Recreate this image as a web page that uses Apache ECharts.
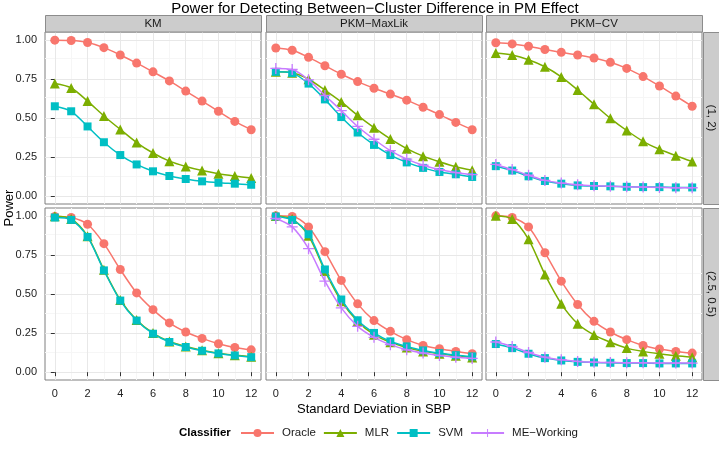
<!DOCTYPE html>
<html>
<head>
<meta charset="utf-8">
<script src="https://cdn.jsdelivr.net/npm/echarts@6/dist/echarts.min.js"></script>
<style>html,body{margin:0;padding:0;background:#fff}#c{width:719px;height:449px}</style>
</head>
<body>
<div id="c"></div>
<script>
// ---- data ----
const sdValues = [0,1,2,3,4,5,6,7,8,9,10,11,12];
const xTicks = [0,2,4,6,8,10,12];
const xMinor = [1,3,5,7,9,11];
const yTicks = [0,0.25,0.5,0.75,1];
const yMinor = [0.125,0.375,0.625,0.875];
const colFacets = ['KM','PKM\u2212MaxLik','PKM\u2212CV'];
const rowFacets = ['(1, 2)','(2.5, 0.5)'];
const classifiers = ['Oracle','MLR','SVM','ME\u2212Working'];

// row (1, 2)
const oracle_KM_1 = [0.998,0.996,0.983,0.950,0.903,0.851,0.795,0.737,0.672,0.608,0.543,0.478,0.425];
const mlr_KM_1    = [0.720,0.692,0.608,0.513,0.427,0.343,0.276,0.224,0.190,0.164,0.144,0.129,0.116];
const svm_KM_1    = [0.575,0.543,0.446,0.345,0.263,0.203,0.159,0.129,0.110,0.095,0.086,0.080,0.073];
const oracle_ML_1 = [0.948,0.933,0.888,0.834,0.780,0.733,0.690,0.653,0.614,0.569,0.522,0.472,0.425];
const mlr_ML_1    = [0.795,0.789,0.748,0.679,0.603,0.517,0.438,0.366,0.304,0.256,0.220,0.188,0.166];
const svm_ML_1    = [0.795,0.787,0.720,0.619,0.506,0.407,0.328,0.263,0.216,0.181,0.155,0.140,0.123];
const me_ML_1     = [0.817,0.810,0.744,0.644,0.547,0.446,0.364,0.291,0.237,0.198,0.170,0.151,0.138];
const oracle_CV_1 = [0.981,0.974,0.959,0.938,0.920,0.903,0.884,0.856,0.817,0.765,0.705,0.640,0.575];
const mlr_CV_1    = [0.916,0.903,0.873,0.828,0.763,0.679,0.588,0.498,0.420,0.351,0.300,0.259,0.222];
const svm_CV_1    = [0.192,0.164,0.127,0.097,0.080,0.069,0.065,0.063,0.060,0.058,0.058,0.056,0.056];
const me_CV_1     = [0.203,0.170,0.134,0.101,0.084,0.073,0.067,0.063,0.060,0.058,0.056,0.054,0.054];
// row (2.5, 0.5)
const oracle_KM_2 = [0.996,0.989,0.946,0.822,0.657,0.507,0.400,0.315,0.257,0.216,0.182,0.158,0.143];
const mlr_KM_2    = [0.997,0.980,0.870,0.655,0.462,0.334,0.250,0.196,0.164,0.140,0.121,0.109,0.099];
const svm_KM_2    = [0.989,0.974,0.865,0.651,0.458,0.330,0.246,0.193,0.161,0.137,0.120,0.107,0.096];
const oracle_ML_2 = [1.000,0.996,0.929,0.771,0.587,0.437,0.330,0.261,0.208,0.171,0.150,0.133,0.118];
const mlr_ML_2    = [0.999,0.979,0.872,0.647,0.454,0.325,0.240,0.191,0.158,0.133,0.118,0.105,0.094];
const svm_ML_2    = [0.996,0.974,0.882,0.657,0.465,0.332,0.251,0.197,0.165,0.139,0.122,0.109,0.101];
const me_ML_2     = [0.983,0.929,0.790,0.582,0.411,0.293,0.223,0.176,0.143,0.122,0.107,0.096,0.088];
const oracle_CV_2 = [1.000,0.989,0.929,0.764,0.582,0.433,0.325,0.257,0.208,0.171,0.148,0.133,0.122];
const mlr_CV_2    = [1.000,0.979,0.850,0.625,0.437,0.310,0.238,0.191,0.154,0.133,0.118,0.105,0.096];
const svm_CV_2    = [0.180,0.154,0.118,0.090,0.075,0.066,0.062,0.060,0.058,0.058,0.056,0.056,0.056];
const me_CV_2     = [0.193,0.165,0.126,0.096,0.079,0.069,0.064,0.062,0.060,0.060,0.058,0.058,0.058];

// panels: [row][col] -> [oracle, mlr, svm, me]
const panelData = [
  [[oracle_KM_1, mlr_KM_1, svm_KM_1, null],
   [oracle_ML_1, mlr_ML_1, svm_ML_1, me_ML_1],
   [oracle_CV_1, mlr_CV_1, svm_CV_1, me_CV_1]],
  [[oracle_KM_2, mlr_KM_2, svm_KM_2, null],
   [oracle_ML_2, mlr_ML_2, svm_ML_2, me_ML_2],
   [oracle_CV_2, mlr_CV_2, svm_CV_2, me_CV_2]]
];

// ---- style / layout ----
const FONT = '"Liberation Sans", Arial, Helvetica, sans-serif';
const colors = ['#F8766D','#7CAE00','#00BFC4','#C77CFF'];
const PLUS = 'path://M4.4,0H5.6V10H4.4ZM0,4.4H10V5.6H0Z';
const symbols = ['circle','triangle','rect',PLUS];
const symSizes = [9,10,8,11];
const L = [45, 266, 486];
const T = [32, 208];
const W = 216, H = 172;
const XMIN = -0.6, XMAX = 12.6, YMIN = -0.05, YMAX = 1.05;
const MAJOR = '#e8e8e8', MINOR = '#f6f6f6';

const grids = [], xAxes = [], yAxes = [], series = [];
for (let r = 0; r < 2; r++) {
  for (let c = 0; c < 3; c++) {
    const gi = grids.length;
    grids.push({left: L[c], top: T[r], width: W, height: H, show: true,
      borderColor: '#7f7f7f', borderWidth: 1, backgroundColor: '#fff', containLabel: false});
    const bottomRow = r === 1, leftCol = c === 0;
    xAxes.push({type: 'value', gridIndex: gi, min: XMIN, max: XMAX, position: 'bottom',
      axisLine: {show: false}, splitLine: {show: false},
      axisTick: {show: bottomRow, customValues: xTicks, length: 4, lineStyle: {color: '#333'}},
      axisLabel: {show: bottomRow, customValues: xTicks, margin: 8, fontSize: 11, color: '#222', fontFamily: FONT},
      name: (bottomRow && c === 1) ? 'Standard Deviation in SBP' : '', nameLocation: 'middle', nameGap: 23,
      nameTextStyle: {fontSize: 13, color: '#000', fontFamily: FONT}});
    yAxes.push({type: 'value', gridIndex: gi, min: YMIN, max: YMAX, position: 'left',
      axisLine: {show: false}, splitLine: {show: false},
      axisTick: {show: leftCol, customValues: yTicks, length: 4, lineStyle: {color: '#333'}},
      axisLabel: {show: leftCol, customValues: yTicks, margin: 8, fontSize: 11, color: '#222', fontFamily: FONT,
        formatter: v => v.toFixed(2)}});
    // grid lines
    const ml = [];
    xMinor.forEach(v => ml.push({xAxis: v, lineStyle: {color: MINOR}}));
    yMinor.forEach(v => ml.push({yAxis: v, lineStyle: {color: MINOR}}));
    xTicks.forEach(v => ml.push({xAxis: v, lineStyle: {color: MAJOR}}));
    yTicks.forEach(v => ml.push({yAxis: v, lineStyle: {color: MAJOR}}));
    series.push({type: 'line', name: '_grid' + gi, xAxisIndex: gi, yAxisIndex: gi, data: [], z: 0, silent: true,
      markLine: {silent: true, z: 0, symbol: ['none','none'], label: {show: false}, animation: false,
        lineStyle: {type: 'solid', width: 1}, data: ml}});
    const pd = panelData[r][c];
    pd.forEach((vals, k) => {
      if (!vals) return;
      series.push({type: 'line', name: classifiers[k], xAxisIndex: gi, yAxisIndex: gi,
        data: sdValues.map((x, i) => [x, vals[i]]),
        smooth: 0.3, symbol: symbols[k], symbolSize: symSizes[k], showAllSymbol: true,
        lineStyle: {color: colors[k], width: 1.5}, itemStyle: {color: colors[k]},
        z: 3 + k, emphasis: {disabled: true}});
    });
  }
}

const graphic = [];
graphic.push({type: 'text', x: 375, y: 8.5, style: {text: 'Power for Detecting Between\u2212Cluster Difference in PM Effect',
  font: '15px ' + FONT, fill: '#000', textAlign: 'center', textVerticalAlign: 'middle'}});
for (let c = 0; c < 3; c++) {
  graphic.push({type: 'rect', shape: {x: L[c] + 0.5, y: 15.5, width: W, height: T[0] - 15.5},
    style: {fill: '#cccccc', stroke: '#8c8c8c', lineWidth: 1}, z: 10});
  graphic.push({type: 'text', x: L[c] + W / 2, y: 24, style: {text: colFacets[c], font: '11.5px ' + FONT,
    fill: '#1a1a1a', textAlign: 'center', textVerticalAlign: 'middle'}, z: 11});
}
for (let r = 0; r < 2; r++) {
  graphic.push({type: 'rect', shape: {x: 703.5, y: T[r] + 0.5, width: 16, height: H},
    style: {fill: '#cccccc', stroke: '#8c8c8c', lineWidth: 1}, z: 10});
  graphic.push({type: 'text', x: 711, y: T[r] + H / 2, rotation: -Math.PI / 2,
    style: {text: rowFacets[r], font: '11.5px ' + FONT, fill: '#1a1a1a', textAlign: 'center', textVerticalAlign: 'middle'}, z: 11});
}
graphic.push({type: 'text', x: 9, y: 208, rotation: Math.PI / 2,
  style: {text: 'Power', font: '13px ' + FONT, fill: '#000', textAlign: 'center', textVerticalAlign: 'middle'}});
graphic.push({type: 'text', x: 179, y: 433, style: {text: 'Classifier', font: 'bold 11.5px ' + FONT,
  fill: '#000', textAlign: 'left', textVerticalAlign: 'middle'}});

const chart = echarts.init(document.getElementById('c'), null, {renderer: 'canvas'});
chart.setOption({
  animation: false,
  backgroundColor: '#fff',
  textStyle: {fontFamily: FONT},
  grid: grids, xAxis: xAxes, yAxis: yAxes, series: series, graphic: graphic,
  legend: {data: classifiers, left: 240, top: 427, padding: 0, itemWidth: 33, itemHeight: 10, itemGap: 7,
    textStyle: {fontSize: 11.5, color: '#1a1a1a', fontFamily: FONT, padding: [0, 0, 0, 3]},
    selectedMode: false}
});
</script>
</body>
</html>
